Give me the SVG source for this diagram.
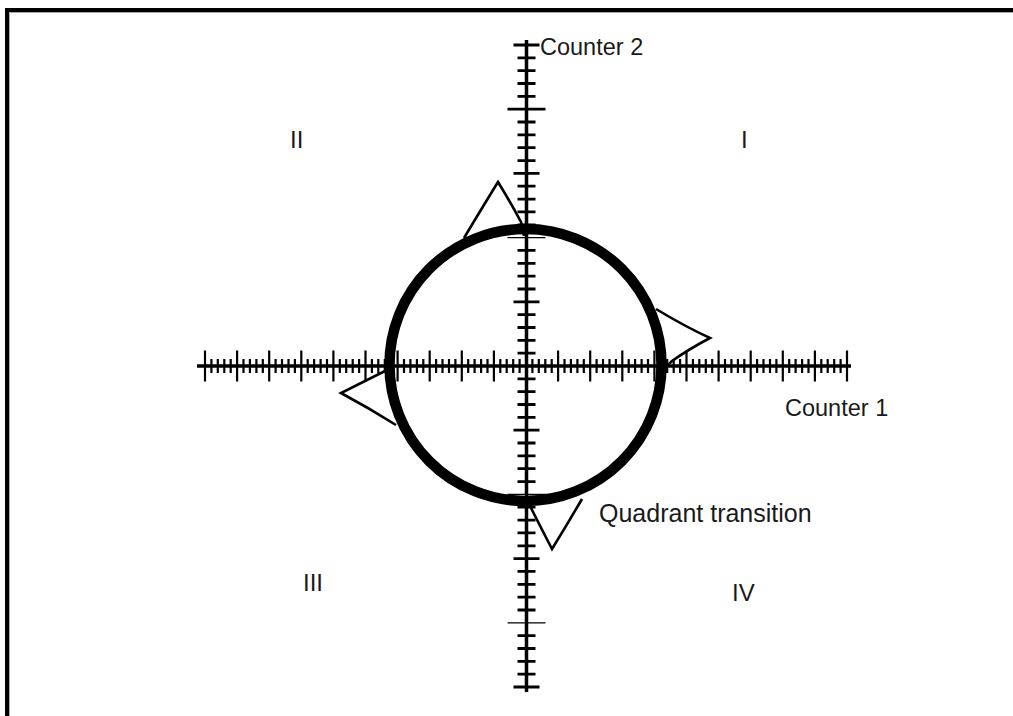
<svg xmlns="http://www.w3.org/2000/svg" width="1013" height="716" viewBox="0 0 1013 716">
<style>
.lbl{font-family:"Liberation Sans",Arial,sans-serif;fill:#1a1a1a;}
.axis{stroke:#000;stroke-width:3.5;fill:none;}
.tk{stroke:#000;stroke-width:2.2;fill:none;}
.tkv{stroke:#000;stroke-width:2.8;fill:none;}
.tkthin{stroke:#000;stroke-width:1.3;fill:none;}
.cusp{stroke:#000;stroke-width:2.6;fill:none;stroke-linejoin:miter;}
</style>
<rect x="0" y="0" width="1013" height="716" fill="#fff"/>
<g id="frame">
<path d="M7,716 V10 H1013" fill="none" stroke="#000" stroke-width="4"/>
<path d="M9.5,716 V12.5 H1013" fill="none" stroke="#aaa" stroke-width="1"/>
</g>
<g id="connectors">
<g id="x-axis">
<line class="axis" x1="197" y1="366" x2="851" y2="366"/>
<path class="tk" d="M205,350.5V381.5M237.1,350.5V381.5M269.2,350.5V381.5M301.3,350.5V381.5M333.4,350.5V381.5M365.5,350.5V381.5M397.6,350.5V381.5M429.7,350.5V381.5M461.8,350.5V381.5M493.9,350.5V381.5M558.1,350.5V381.5M590.2,350.5V381.5M622.3,350.5V381.5M654.4,350.5V381.5M686.5,350.5V381.5M718.6,350.5V381.5M750.7,350.5V381.5M782.8,350.5V381.5M814.9,350.5V381.5M847,350.5V381.5"/>
<path class="tk" d="M211.4,359V373M217.8,359V373M224.3,359V373M230.7,359V373M243.5,359V373M249.9,359V373M256.4,359V373M262.8,359V373M275.6,359V373M282,359V373M288.5,359V373M294.9,359V373M307.7,359V373M314.1,359V373M320.6,359V373M327,359V373M339.8,359V373M346.2,359V373M352.7,359V373M359.1,359V373M371.9,359V373M378.3,359V373M384.8,359V373M391.2,359V373M404,359V373M410.4,359V373M416.9,359V373M423.3,359V373M436.1,359V373M442.5,359V373M449,359V373M455.4,359V373M468.2,359V373M474.6,359V373M481.1,359V373M487.5,359V373M500.3,359V373M506.7,359V373M513.2,359V373M519.6,359V373M532.4,359V373M538.8,359V373M545.3,359V373M551.7,359V373M564.5,359V373M570.9,359V373M577.4,359V373M583.8,359V373M596.6,359V373M603,359V373M609.5,359V373M615.9,359V373M628.7,359V373M635.1,359V373M641.6,359V373M648,359V373M660.8,359V373M667.2,359V373M673.7,359V373M680.1,359V373M692.9,359V373M699.3,359V373M705.8,359V373M712.2,359V373M725,359V373M731.4,359V373M737.9,359V373M744.3,359V373M757.1,359V373M763.5,359V373M770,359V373M776.4,359V373M789.2,359V373M795.6,359V373M802.1,359V373M808.5,359V373M821.3,359V373M827.7,359V373M834.2,359V373M840.6,359V373"/>
</g>
<g id="y-axis">
<line class="axis" x1="526.5" y1="40" x2="526.5" y2="692"/>
<path class="tkv" d="M513.5,45H539.5M513.5,687H539.5M507.5,109.2H545.5M513.5,173.4H539.5M513.5,301.8H539.5M513.5,430.2H539.5M513.5,558.6H539.5"/>
<path class="tkthin" d="M507.5,237.6H545.5M507.5,494.4H545.5M507.5,622.8H545.5"/>
<path class="tkv" d="M517.5,57.8H535.5M517.5,70.7H535.5M517.5,83.5H535.5M517.5,96.4H535.5M517.5,122H535.5M517.5,134.9H535.5M517.5,147.7H535.5M517.5,160.6H535.5M517.5,186.2H535.5M517.5,199.1H535.5M517.5,211.9H535.5M517.5,224.8H535.5M517.5,250.4H535.5M517.5,263.3H535.5M517.5,276.1H535.5M517.5,289H535.5M517.5,314.6H535.5M517.5,327.5H535.5M517.5,340.3H535.5M517.5,353.2H535.5M517.5,378.8H535.5M517.5,391.7H535.5M517.5,404.5H535.5M517.5,417.4H535.5M517.5,443H535.5M517.5,455.9H535.5M517.5,468.7H535.5M517.5,481.6H535.5M517.5,507.2H535.5M517.5,520.1H535.5M517.5,532.9H535.5M517.5,545.8H535.5M517.5,571.4H535.5M517.5,584.3H535.5M517.5,597.1H535.5M517.5,610H535.5M517.5,635.6H535.5M517.5,648.5H535.5M517.5,661.3H535.5M517.5,674.2H535.5"/>
</g>
<g id="cusps">
<path class="cusp" d="M464,238 Q482,208 498,182 Q511,203 521,222 L524,236"/>
<path class="cusp" d="M656,309 Q684,326 710,338 Q689,349 672,361 L667,366"/>
<path class="cusp" d="M385,371 Q361,383 341,393 Q369,408 396,425"/>
<path class="cusp" d="M527,500 Q540,526 552,549 Q568,523 582,499"/>
</g>
</g>
<g id="circle">
<circle cx="525.5" cy="365" r="136" fill="none" stroke="#000" stroke-width="10.5"/>
</g>
<g id="labels">
<text class="lbl" x="540" y="55" font-size="23.5">Counter 2</text>
<text class="lbl" x="785" y="416" font-size="23.5">Counter 1</text>
<text class="lbl" x="599" y="522" font-size="25">Quadrant transition</text>
<text class="lbl" x="290" y="148" font-size="24">II</text>
<text class="lbl" x="741" y="148" font-size="24">I</text>
<text class="lbl" x="303" y="591" font-size="24">III</text>
<text class="lbl" x="732" y="601" font-size="24">IV</text>
</g>
</svg>
